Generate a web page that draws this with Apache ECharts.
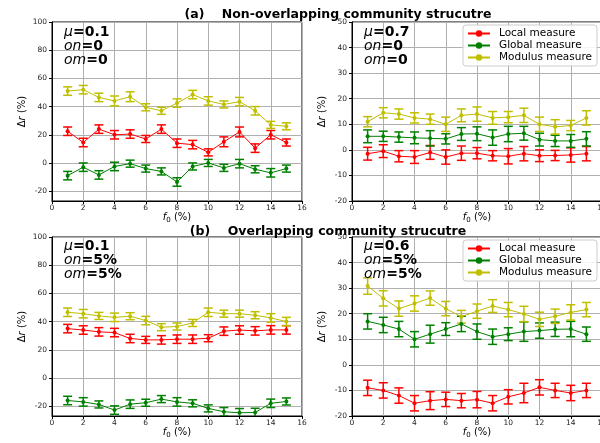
<!DOCTYPE html>
<html><head><meta charset="utf-8">
<script src="https://cdn.jsdelivr.net/npm/echarts@6/dist/echarts.min.js"></script>
<style>html,body{margin:0;padding:0;background:#fff}#c{width:600px;height:443px}</style>
</head><body><div id="c"></div>
<script>
var fVals = [1,2,3,4,5,6,7,8,9,10,11,12,13,14,15];
var seriesNames = ['Local measure','Global measure','Modulus measure'];
var xTicks = [0,2,4,6,8,10,12,14,16];
var yTicksLeft = [-20,0,20,40,60,80,100];
var yTicksRight = [-20,-10,0,10,20,30,40,50];

// Panel (a) left: mu=0.1, on=0, om=0
var aL_local   = [22.5,14.5,24,20,20.5,17,24,14,13,7.5,15,22,10.5,20,14.5];
var aL_global  = [-9,-3,-8.5,-2.5,-0.5,-4,-6,-13.5,-2.5,0,-3.5,-0.5,-4.5,-7,-4];
var aL_modulus = [51,52,46.5,44,47,39.5,37,42.5,48.5,44,41.5,43.5,37,27,26];
var aL_localErr   = [3,3,3,3,3,2.5,3,3,3,2.5,3.5,3.5,3,3,2.5];
var aL_globalErr  = [3,3,3,3,2.5,2.5,2.5,3,2.5,2.5,2.5,3,2.5,3,2.5];
var aL_modulusErr = [3,3,3,3.5,3.5,2.5,2.5,3,3,3,2.5,3,3,2.5,2.5];

// Panel (a) right: mu=0.7, on=0, om=0
var aR_local   = [-1.5,-0.5,-2.5,-2.8,-1,-2.8,-1.3,-1.3,-2.3,-2.5,-1.5,-2.3,-2.2,-2,-1.5];
var aR_global  = [5.3,5.3,5,4.7,4.5,4.3,6.2,6.3,4.8,6.2,6.5,4,3.5,3.5,4.3];
var aR_modulus = [11,14.5,14,12.5,12,10,13.5,14,12.5,12.8,13.5,10,9,9.5,12.5];
var aR_localErr   = [2.5,2.5,2.2,2.5,2.7,2.8,2.8,2.2,2,3,2.8,2.3,2,2.8,2.8];
var aR_globalErr  = [2.5,2,2,2.3,3,2,2.5,2.7,3,3,2.7,2.5,2.2,2.5,2.8];
var aR_modulusErr = [2,2,2,2,2,2.8,2.5,2.8,2.5,2.2,2.8,2.8,2.8,2,2.8];

// Panel (b) left: mu=0.1, on=5%, om=5%
var bL_local   = [35,34,32.7,32.2,28,27,27,27.5,27.5,28.2,33.2,34,33.4,34.1,34.1];
var bL_global  = [-16,-17,-18.8,-22.8,-18.6,-17.6,-15,-17,-18,-21.6,-24,-24.7,-24.5,-18,-16.7];
var bL_modulus = [46.6,45.6,44,43,43.8,40.7,36,36.5,39,46.6,45.6,45.6,44.5,42.6,40];
var bL_localErr   = [3,3,3,3,3,2.5,3,3,3,2.5,3,3,3,3,3];
var bL_globalErr  = [3,3,2.5,3,3,2.5,2.5,3,2.5,2.5,3,3,3,3,2.5];
var bL_modulusErr = [3,3,2.5,3,2.5,3,2.5,2.5,2.5,3,2.5,2.5,2.5,3,3];

// Panel (b) right: mu=0.6, on=5%, om=5%
var bR_local   = [-9,-10,-12,-15,-14,-13.5,-14,-13.6,-15,-12.5,-11,-8.8,-10,-11,-10];
var bR_global  = [17,15.6,14,10,12,14,16,13,11,12,13,13.4,13.9,14,12];
var bR_modulus = [30.8,26,22,24,26.1,22,18.8,21,23,21.6,19.9,17.8,19,20.5,21.6];
var bR_localErr   = [3,3,3,3,3.5,2.8,2.8,3.2,3,2.8,3.8,3,2.8,3,2.8];
var bR_globalErr  = [3,3,3,3,3.5,2.5,3,3,3,2.5,3.8,3,2.8,3,2.8];
var bR_modulusErr = [3.2,3,3,3,2.8,2.8,2.5,2.8,2.5,2.8,3,2.8,2.8,3,2.8];

var colors = ['#ff0000','#008000','#bfbf00'];
var FONT = 'DejaVu Sans';

var panels = [
  {vals:[aL_local,aL_global,aL_modulus], errs:[aL_localErr,aL_globalErr,aL_modulusErr], min:-27, max:100, ticks:yTicksLeft},
  {vals:[aR_local,aR_global,aR_modulus], errs:[aR_localErr,aR_globalErr,aR_modulusErr], min:-20, max:50, ticks:yTicksRight},
  {vals:[bL_local,bL_global,bL_modulus], errs:[bL_localErr,bL_globalErr,bL_modulusErr], min:-27, max:100, ticks:yTicksLeft},
  {vals:[bR_local,bR_global,bR_modulus], errs:[bR_localErr,bR_globalErr,bR_modulusErr], min:-20, max:50, ticks:yTicksRight}
];
var gridPos = [
  {left:52, top:22, width:250, height:179},
  {left:352, top:22, width:250, height:179},
  {left:52, top:237, width:250, height:179},
  {left:352, top:237, width:250, height:179}
];

var grids=[], xAxes=[], yAxes=[], series=[];
panels.forEach(function(p, gi){
  grids.push(Object.assign({show:true, borderColor:'#000', borderWidth:1, backgroundColor:'transparent', containLabel:false, outerBoundsMode:'none'}, gridPos[gi]));
  xAxes.push({
    type:'value', gridIndex:gi, min:0, max:16, interval:2,
    name:'{i|f}{s|0} (%)', nameLocation:'middle', nameGap:11,
    nameTextStyle:{fontFamily:FONT, fontSize:10, color:'#000',
      rich:{i:{fontFamily:FONT, fontStyle:'italic', fontSize:10, color:'#000'}, s:{fontFamily:FONT, fontSize:7, color:'#000', verticalAlign:'bottom', padding:[4,0,0,0]}}},
    axisLine:{show:true, onZero:false, lineStyle:{color:'#000', width:1}},
    axisTick:{show:true, inside:false, length:3, lineStyle:{color:'#000'}, customValues:xTicks},
    axisLabel:{fontFamily:FONT, fontSize:7.5, color:'#222', margin:3, customValues:xTicks, showMinLabel:true, showMaxLabel:true},
    splitLine:{show:true, lineStyle:{color:'#b0b0b0', width:1}}
  });
  yAxes.push({
    type:'value', gridIndex:gi, min:p.min, max:p.max,
    name:'{d|Δ}{i|r} (%)', nameLocation:'middle', nameGap:25, nameRotate:90,
    nameTextStyle:{fontFamily:FONT, fontSize:10, color:'#000',
      rich:{d:{fontFamily:FONT, fontSize:10, color:'#000'}, i:{fontFamily:FONT, fontStyle:'italic', fontSize:10, color:'#000'}}},
    axisLine:{show:true, onZero:false, lineStyle:{color:'#000', width:1}},
    axisTick:{show:true, inside:false, length:3, lineStyle:{color:'#000'}, customValues:p.ticks},
    axisLabel:{fontFamily:FONT, fontSize:7.5, color:'#222', margin:5, customValues:p.ticks, showMinLabel:true, showMaxLabel:true},
    splitLine:{show:true, lineStyle:{color:'#b0b0b0', width:1}}
  });
  p.vals.forEach(function(v, si){
    var col = colors[si];
    series.push({
      name: seriesNames[si], type:'line', xAxisIndex:gi, yAxisIndex:gi,
      data: fVals.map(function(x,i){return [x, v[i]];}),
      symbol:'circle', symbolSize:4, showSymbol:true,
      lineStyle:{color:col, width:1}, itemStyle:{color:col}, z:3, animation:false
    });
    series.push({
      name:'err'+gi+'_'+si, type:'custom', xAxisIndex:gi, yAxisIndex:gi, clip:true,
      data: fVals.map(function(x,i){return [x, v[i]-p.errs[si][i], v[i]+p.errs[si][i]];}),
      encode:{x:0, y:[1,2]}, z:2, animation:false,
      renderItem: (function(c){ return function(params, api){
        var x = api.value(0);
        var a = api.coord([x, api.value(2)]), b = api.coord([x, api.value(1)]);
        var w = 4.5, st = {stroke:c, lineWidth:1.5};
        return {type:'group', children:[
          {type:'line', shape:{x1:a[0],y1:a[1],x2:b[0],y2:b[1]}, style:st},
          {type:'line', shape:{x1:a[0]-w,y1:a[1],x2:a[0]+w,y2:a[1]}, style:st},
          {type:'line', shape:{x1:b[0]-w,y1:b[1],x2:b[0]+w,y2:b[1]}, style:st}
        ]};
      };})(col)
    });
  });
});

function annot(left, top, mu, on, om){
  return {type:'text', left:left, top:top, z:10, style:{
    text:'{i|μ}{b|='+mu+'}\n{i|on}{b|='+on+'}\n{i|om}{b|='+om+'}',
    lineHeight:14,
    rich:{
      i:{fontFamily:FONT, fontStyle:'italic', fontSize:14, lineHeight:14, fill:'#000'},
      b:{fontFamily:FONT, fontWeight:'bold', fontSize:14, lineHeight:14, fill:'#000'}
    }}};
}

var legendCommon = {
  orient:'vertical', data:seriesNames, itemWidth:22, itemHeight:8, itemGap:1,
  backgroundColor:'rgba(255,255,255,0.85)', borderColor:'#cccccc', borderWidth:1, borderRadius:3,
  padding:[3,5,3,4], textStyle:{fontFamily:FONT, fontSize:10.5, lineHeight:10, color:'#000', padding:[0,0,0,4]},
  selectedMode:false
};

var option = {
  animation:false,
  backgroundColor:'#fff',
  title:[
    {text:'(a)    Non-overlapping community strucutre', left:333, top:3, textAlign:'center',
     textStyle:{fontFamily:FONT, fontWeight:'bold', fontSize:12.5, color:'#000'}},
    {text:'(b)    Overlapping community strucutre', left:323, top:220, textAlign:'center',
     textStyle:{fontFamily:FONT, fontWeight:'bold', fontSize:12.5, color:'#000'}}
  ],
  legend:[
    Object.assign({left:463, top:25}, legendCommon),
    Object.assign({left:463, top:240}, legendCommon)
  ],
  grid:grids, xAxis:xAxes, yAxis:yAxes, series:series,
  graphic:[
    annot(64, 25, '0.1', '0', '0'),
    annot(364, 25, '0.7', '0', '0'),
    annot(64, 239, '0.1', '5%', '5%'),
    annot(364, 239, '0.6', '5%', '5%')
  ]
};
var chart = echarts.init(document.getElementById('c'), null, {renderer:'canvas'});
chart.setOption(option);
</script></body></html>
